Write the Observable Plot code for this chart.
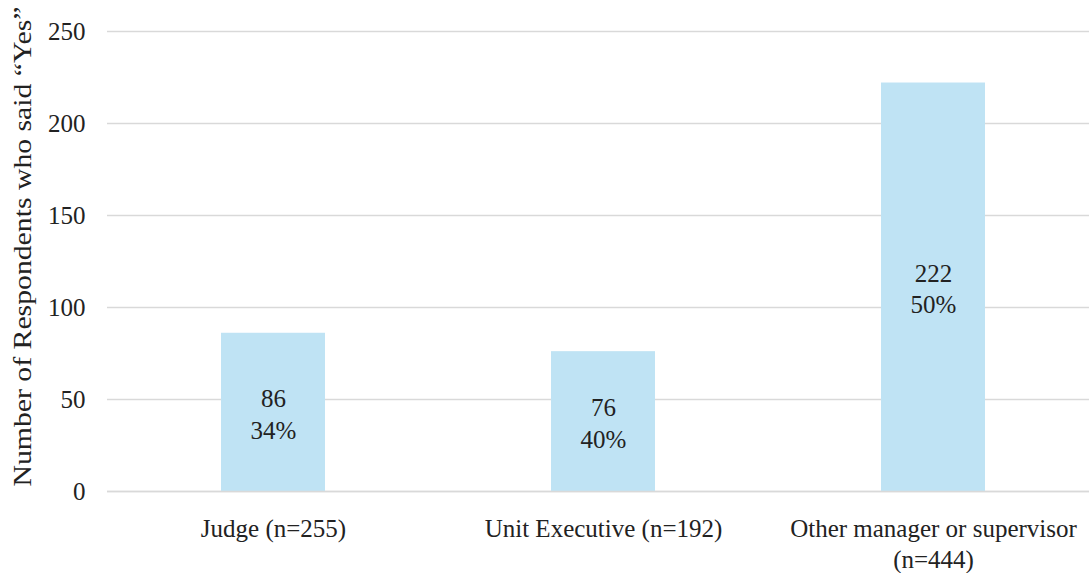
<!DOCTYPE html>
<html>
<head>
<meta charset="utf-8">
<script src="https://cdn.jsdelivr.net/npm/d3@7"></script>
<script src="https://cdn.jsdelivr.net/npm/@observablehq/plot@0.6"></script>
<style>
  html, body { margin: 0; padding: 0; background: #fff; overflow: hidden; }
  #chart svg { display: block; }
</style>
</head>
<body>
<div id="chart"></div>
<script>
const categories = ["Judge", "Unit Executive", "Other manager or supervisor"];
const sampleSizes = [255, 192, 444];
const yesCounts = [86, 76, 222];
const yesPercents = [34, 40, 50];
const xTickLabels = ["Judge (n=255)", "Unit Executive (n=192)", "Other manager or supervisor\n(n=444)"];
const yTicks = [0, 50, 100, 150, 200, 250];
const yTitle = "Number of Respondents who said \u201CYes\u201D";

const data = categories.map((c, i) => ({
  category: c,
  n: sampleSizes[i],
  yes: yesCounts[i],
  pct: yesPercents[i],
  label: `${yesCounts[i]}\n${yesPercents[i]}%`
}));

const font = "'Liberation Serif', 'DejaVu Serif', serif";
const fs = 25;

const chart = Plot.plot({
  width: 1089,
  height: 573,
  marginLeft: 107,
  marginRight: -10,
  marginTop: 31,
  marginBottom: 82,
  style: { fontFamily: font, fontSize: fs + "px", color: "#222", background: "#fff" },
  x: { domain: categories, paddingInner: 0.686, paddingOuter: 0.343 },
  y: { domain: [0, 250] },
  marks: [
    Plot.ruleY(yTicks, { stroke: "#d9d9d9", strokeWidth: 1.5 }),
    Plot.barY(data, { x: "category", y: "yes", fill: "#bfe3f4" }),
    Plot.ruleY([0], { stroke: "#d9d9d9", strokeWidth: 1.5 }),
    Plot.text(data, {
      x: "category",
      y: d => d.yes / 2,
      text: "label",
      lineHeight: 1.28,
      fontSize: fs,
      fill: "#222"
    }),
    Plot.axisX({
      tickSize: 0,
      tickPadding: 24,
      tickFormat: (d) => xTickLabels[categories.indexOf(d)],
      lineHeight: 1.22,
      fontSize: fs,
      label: null
    }),
    Plot.axisY({
      ticks: yTicks,
      tickSize: 0,
      tickPadding: 22,
      fontSize: fs,
      label: null
    }),
    Plot.text([yTitle], {
      frameAnchor: "left",
      textAnchor: "middle",
      rotate: -90,
      dx: -85,
      dy: -15,
      fontSize: 26,
      fill: "#222",
      className: "ytitle"
    })
  ]
});
chart.querySelectorAll("text").forEach(t => t.setAttribute("fill", "#222"));
chart.querySelectorAll(".ytitle text").forEach(t => {
  t.setAttribute("textLength", "480");
  t.setAttribute("lengthAdjust", "spacingAndGlyphs");
});
document.getElementById("chart").appendChild(chart);
</script>
</body>
</html>
